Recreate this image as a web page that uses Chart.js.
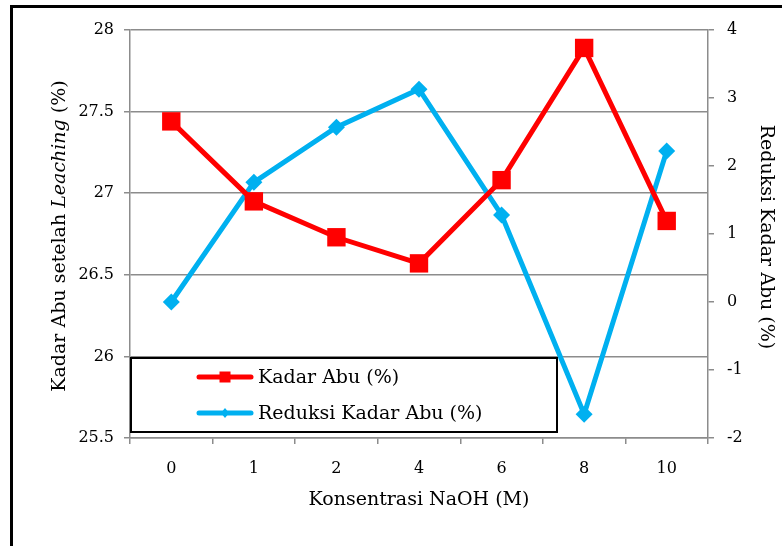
<!DOCTYPE html>
<html>
<head>
<meta charset="utf-8">
<script src="https://cdn.jsdelivr.net/npm/chart.js@4.4.0/dist/chart.umd.min.js"></script>
<style>
  html, body { margin: 0; padding: 0; background: #fff; }
  canvas { display: block; }
</style>
</head>
<body>
<canvas id="chart" width="782" height="546"></canvas>
<script>
// NaOH concentration (M) on the category axis
const concentrations = ['0', '1', '2', '4', '6', '8', '10'];
// ash content after leaching, left axis (%)
const kadarAbu = [27.44, 26.95, 26.73, 26.57, 27.08, 27.89, 26.83];
// ash content reduction, right axis (%)
const reduksiKadarAbu = [0, 1.76, 2.57, 3.13, 1.28, -1.65, 2.22];

const leftMin = 25.5, leftMax = 28, leftStep = 0.5;
const rightMin = -2, rightMax = 4, rightStep = 1;

const RED = '#ff0000';
const BLUE = '#00b0f0';
const GRID = '#8c8c8c';
const FONT = "'DejaVu Serif', serif";
const TITLE_SIZE = 19;
const TICK_SIZE = 16;

// outer frame, axis titles and the boxed legend
const decorations = {
  id: 'decorations',
  beforeDraw(chart) {
    const ctx = chart.ctx;
    ctx.save();
    ctx.fillStyle = '#000';
    ctx.fillRect(10, 5, 3, chart.height - 5);
    ctx.fillRect(10, 5, chart.width - 10, 3);
    ctx.restore();
  },
  afterDraw(chart) {
    const ctx = chart.ctx;
    const area = chart.chartArea;
    const font = TITLE_SIZE + 'px ' + FONT;
    ctx.save();
    ctx.fillStyle = '#000';
    ctx.textBaseline = 'middle';

    // x title
    ctx.font = font;
    ctx.textAlign = 'center';
    ctx.fillText('Konsentrasi NaOH (M)', (area.left + area.right) / 2, 500);

    // left title with italic word
    const parts = [
      ['Kadar Abu setelah ', 'normal'],
      ['Leaching', 'italic'],
      [' (%)', 'normal']
    ];
    let total = 0;
    parts.forEach(p => {
      ctx.font = p[1] + ' ' + font;
      total += ctx.measureText(p[0]).width;
    });
    ctx.save();
    ctx.translate(60, (area.top + area.bottom) / 2 + 2);
    ctx.rotate(-Math.PI / 2);
    ctx.textAlign = 'left';
    let x = -total / 2;
    parts.forEach(p => {
      ctx.font = p[1] + ' ' + font;
      ctx.fillText(p[0], x, 0);
      x += ctx.measureText(p[0]).width;
    });
    ctx.restore();

    // right title
    ctx.save();
    ctx.translate(766, 237);
    ctx.rotate(Math.PI / 2);
    ctx.font = font;
    ctx.textAlign = 'center';
    ctx.fillText('Reduksi Kadar Abu (%)', 0, 0);
    ctx.restore();

    // legend box
    const bx = 131, by = 358, bw = 426, bh = 74;
    ctx.fillStyle = '#fff';
    ctx.fillRect(bx, by, bw, bh);
    ctx.strokeStyle = '#000';
    ctx.lineWidth = 2;
    ctx.strokeRect(bx, by, bw, bh);

    const entries = [
      { label: 'Kadar Abu (%)', color: RED, y: 377, marker: 'square' },
      { label: 'Reduksi Kadar Abu (%)', color: BLUE, y: 413, marker: 'diamond' }
    ];
    entries.forEach(e => {
      ctx.strokeStyle = e.color;
      ctx.fillStyle = e.color;
      ctx.lineWidth = 5;
      ctx.lineCap = 'round';
      ctx.beginPath();
      ctx.moveTo(199, e.y);
      ctx.lineTo(251, e.y);
      ctx.stroke();
      ctx.beginPath();
      if (e.marker === 'square') {
        ctx.rect(219.5, e.y - 5.5, 11, 11);
      } else {
        ctx.moveTo(225, e.y - 5);
        ctx.lineTo(229, e.y);
        ctx.lineTo(225, e.y + 5);
        ctx.lineTo(221, e.y);
        ctx.closePath();
      }
      ctx.fill();
      ctx.fillStyle = '#000';
      ctx.font = font;
      ctx.textAlign = 'left';
      ctx.fillText(e.label, 258, e.y + 1);
    });
    ctx.restore();
  }
};

const tickFont = { family: FONT, size: TICK_SIZE };

new Chart(document.getElementById('chart'), {
  type: 'line',
  data: {
    labels: concentrations,
    datasets: [
      {
        label: 'Kadar Abu (%)',
        data: kadarAbu,
        yAxisID: 'y',
        borderColor: RED,
        backgroundColor: RED,
        borderWidth: 5,
        tension: 0,
        pointStyle: 'rect',
        pointRadius: 13,
        pointBorderWidth: 0,
        pointBackgroundColor: RED
      },
      {
        label: 'Reduksi Kadar Abu (%)',
        data: reduksiKadarAbu,
        yAxisID: 'y1',
        borderColor: BLUE,
        backgroundColor: BLUE,
        borderWidth: 5,
        tension: 0,
        pointStyle: 'rectRot',
        pointRadius: 8.5,
        pointBorderWidth: 0,
        pointBackgroundColor: BLUE
      }
    ]
  },
  options: {
    responsive: false,
    animation: false,
    layout: { padding: { top: 30, left: 0, right: 0, bottom: 0 } },
    plugins: {
      legend: { display: false },
      tooltip: { enabled: false }
    },
    scales: {
      x: {
        offset: true,
        afterFit(s) { s.height = 108; },
        grid: { offset: true, drawOnChartArea: false, tickLength: 6, color: GRID, lineWidth: 1.5 },
        border: { color: GRID, width: 1.5 },
        ticks: { color: '#000', font: tickFont, padding: 15, maxRotation: 0 }
      },
      y: {
        position: 'left',
        min: leftMin,
        max: leftMax,
        afterFit(s) { s.width = 130; },
        ticks: {
          stepSize: leftStep,
          color: '#000',
          font: tickFont,
          padding: 10,
          callback: v => String(+v.toFixed(1))
        },
        grid: { color: GRID, lineWidth: 1.5, tickLength: 6 },
        border: { color: GRID, width: 1.5 }
      },
      y1: {
        position: 'right',
        min: rightMin,
        max: rightMax,
        afterFit(s) { s.width = 74; },
        ticks: { stepSize: rightStep, color: '#000', font: tickFont, padding: 13 },
        grid: { drawOnChartArea: false, color: GRID, lineWidth: 1.5, tickLength: 6 },
        border: { color: GRID, width: 1.5 }
      }
    }
  },
  plugins: [decorations]
});
</script>
</body>
</html>
